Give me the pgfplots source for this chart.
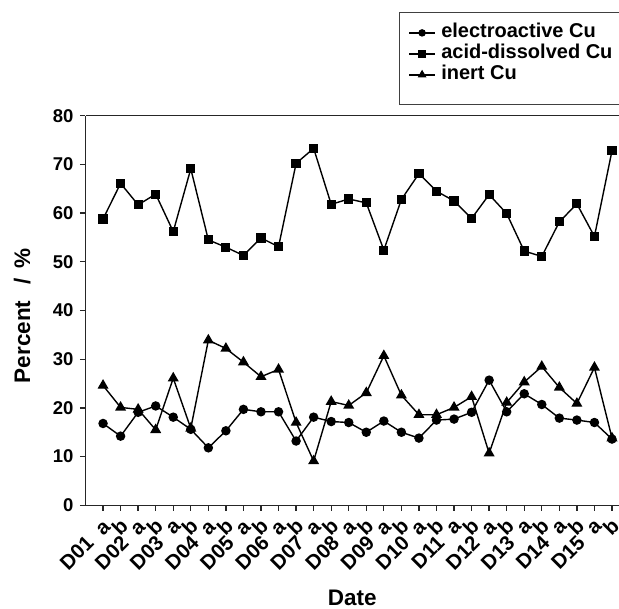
\documentclass[border=0pt]{standalone}
\usepackage{fontspec}
\setmainfont{Liberation Sans}
\usepackage{pgfplots}
\usepackage{pgfplotstable}
\pgfplotsset{compat=1.18}
\pgfplotstableread{
x E A I
0 16.8 58.8 24.6
1 14.2 66.1 20.1
2 19.1 61.7 19.7
3 20.4 63.9 15.5
4 18.1 56.2 26.1
5 15.6 69.1 15.8
6 11.8 54.5 33.9
7 15.3 53.0 32.2
8 19.7 51.3 29.4
9 19.2 54.9 26.4
10 19.2 53.1 27.9
11 13.2 70.2 17.0
12 18.1 73.3 9.1
13 17.2 61.8 21.3
14 17.0 62.9 20.5
15 15.0 62.1 23.1
16 17.3 52.4 30.7
17 15.0 62.8 22.6
18 13.8 68.1 18.6
19 17.5 64.5 18.6
20 17.7 62.5 20.1
21 19.1 58.9 22.3
22 25.7 63.8 10.7
23 19.2 59.9 21.1
24 22.9 52.2 25.3
25 20.7 51.1 28.5
26 17.9 58.2 24.2
27 17.5 61.9 20.9
28 17.0 55.2 28.3
29 13.6 72.8 13.8
}\datatable
\def\sp{\hspace{12bp}}
\begin{document}
\begin{tikzpicture}
\begin{axis}[
  scale only axis,
  width=533.5bp, height=389.6bp,
  at={(0,0)}, anchor=south west,
  xmin=-1, xmax=29.4,
  ymin=0, ymax=80,
  ytick={0,10,...,80},
  xtick={0,...,29},
  xticklabels={D01\sp a,b,D02\sp a,b,D03\sp a,b,D04\sp a,b,D05\sp a,b,D06\sp a,b,D07\sp a,b,D08\sp a,b,D09\sp a,b,D10\sp a,b,D11\sp a,b,D12\sp a,b,D13\sp a,b,D14\sp a,b,D15\sp a,b},
  axis x line*=bottom, axis y line*=left,
  axis line style={line width=1.3bp, black!85},
  tick style={line width=1.3bp, black!85},
  tick align=outside,
  major tick length=5.5bp,
  /pgf/number format/assume math mode=true,
  x tick label style={xshift=3.5bp, yshift=-12bp, rotate=45, anchor=east, inner sep=0pt, font=\fontsize{20.5bp}{22bp}\selectfont\bfseries},
  y tick label style={xshift=-3bp, font=\fontsize{18.5bp}{22bp}\selectfont\bfseries},
  xlabel={Date},
  ylabel={Percent \,\ /\ \,\%},
  every axis x label/.style={at={(axis description cs:0.5,-0.2582)}, anchor=base, font=\fontsize{22.5bp}{26bp}\selectfont\bfseries},
  every axis y label/.style={at={(axis description cs:-0.104,0.487)}, anchor=base, rotate=90, font=\fontsize{22.5bp}{26bp}\selectfont\bfseries},
  legend style={at={(axis description cs:0.5876,1.2662)}, anchor=north west, draw=black!75, line width=0.8bp,
    font=\fontsize{20bp}{24bp}\selectfont\bfseries, inner xsep=9bp, inner ysep=10bp,
    nodes={inner sep=1.5bp, text height=14bp, text depth=4bp},
    /tikz/every odd column/.append style={column sep=4bp}},
  legend cell align=left,
  legend image code/.code={
    \draw[#1, mark repeat=2, mark phase=2] plot coordinates {(0bp,0bp) (13bp,0bp) (26bp,0bp)};
  },
  legend image post style={/tikz/every mark/.append style={scale=0.75}},
  clip=false,
]
\addplot[black, line width=1.4bp, mark=*, mark size=4bp] table[x=x, y=E] {\datatable};
\addlegendentry{electroactive Cu}
\addplot[black, line width=1.4bp, mark=square*, mark size=3.9bp] table[x=x, y=A] {\datatable};
\addlegendentry{acid-dissolved Cu}
\addplot[black, line width=1.4bp, mark=triangle*, mark size=5bp] table[x=x, y=I] {\datatable};
\addlegendentry{inert Cu}
\addlegendimage{empty legend}
\addlegendentry[text height=0pt, text depth=9bp, inner sep=0pt]{}
\end{axis}
\draw[line width=1.3bp, black!85] (0bp,389.6bp) -- (533.5bp,389.6bp);
\pgfresetboundingbox
\useasboundingbox (-85.5bp,-103.7bp) rectangle (533.5bp,505.3bp);
\end{tikzpicture}
\end{document}
